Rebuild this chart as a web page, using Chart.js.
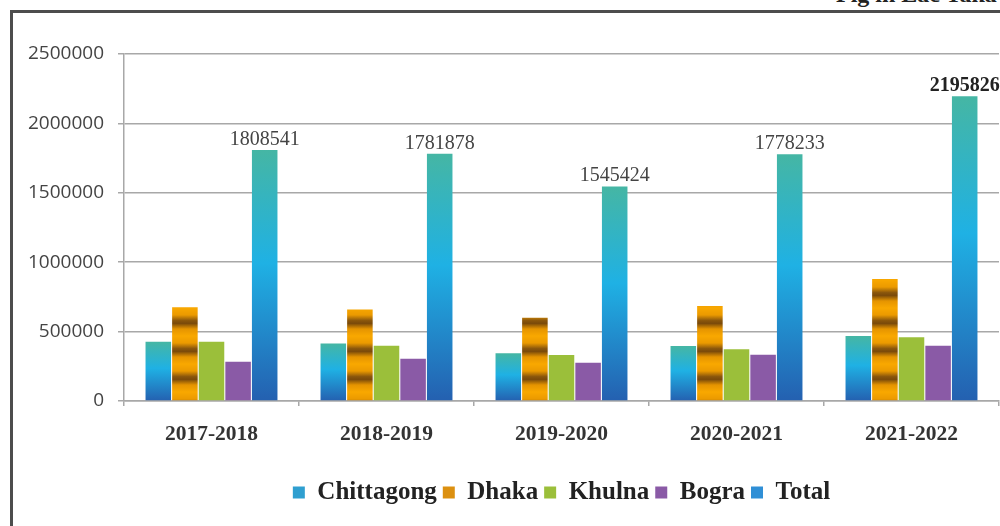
<!DOCTYPE html>
<html>
<head>
<meta charset="utf-8">
<script src="https://cdn.jsdelivr.net/npm/chart.js@4.4.1/dist/chart.umd.min.js"></script>
<style>
  html, body { margin: 0; padding: 0; background: #fff; }
  #wrap { position: relative; width: 1000px; height: 526px; overflow: hidden; }
  #frame { position: absolute; left: 10px; top: 10px; right: -10px; bottom: -10px;
           border-left: 3px solid #4d4d4d; border-top: 3px solid #4d4d4d; }
  #unit { position: absolute; left: 836px; top: -19px; font: bold 24px "Liberation Serif", serif;
          color: #222; white-space: nowrap; }
  canvas { position: absolute; left: 0; top: 0; }
</style>
</head>
<body>
<div id="wrap">
  <div id="frame"></div>
  <div id="unit">Fig in Lac Taka</div>
  <canvas id="regionChart" width="1000" height="526"></canvas>
</div>
<script>
const years = ["2017-2018", "2018-2019", "2019-2020", "2020-2021", "2021-2022"];
const chittagong = [427000, 415000, 344000, 396000, 468000];
const dhaka = [675000, 660000, 600000, 684000, 879000];
const khulna = [427000, 398000, 331000, 372000, 459000];
const bogra = [283000, 305000, 276000, 333000, 398000];
const total = [1808541, 1781878, 1545424, 1778233, 2195826];
const yTicks = [0, 500000, 1000000, 1500000, 2000000, 2500000];

const GRID = "#a8a8a8";
const SERIF = "'Liberation Serif', 'Times New Roman', serif";

// teal -> cyan -> blue fade, stretched over each bar's own height
function blueFade(ctx) {
  const chart = ctx.chart;
  if (!ctx.parsed || !chart.chartArea) return "#2a9fd6";
  const y = chart.scales.y;
  const top = y.getPixelForValue(ctx.parsed.y);
  const base = y.getPixelForValue(0);
  const g = chart.ctx.createLinearGradient(0, top, 0, base);
  g.addColorStop(0, "#45b6a4");
  g.addColorStop(0.45, "#1fb1e4");
  g.addColorStop(1, "#2460b0");
  return g;
}

// orange bars with brown wood-like bands
function woodPattern() {
  const c = document.createElement("canvas");
  c.width = 4; c.height = 28;
  const g = c.getContext("2d");
  const lg = g.createLinearGradient(0, 0, 0, 28);
  lg.addColorStop(0, "#f9a800");
  lg.addColorStop(0.25, "#eb9a00");
  lg.addColorStop(0.45, "#8a560c");
  lg.addColorStop(0.55, "#7a4a0a");
  lg.addColorStop(0.75, "#e59400");
  lg.addColorStop(1, "#f9a800");
  g.fillStyle = lg;
  g.fillRect(0, 0, 4, 28);
  return g.createPattern(c, "repeat");
}

// legend swatches: flat stand-ins for the gradient / striped fills
const swatch = ["#2f9fd0", "#dc9010", "#9bbf3a", "#8a5aa6", "#2f8fd6"];

const totalLabels = {
  id: "totalLabels",
  afterDatasetsDraw(chart) {
    const meta = chart.getDatasetMeta(4);
    const c = chart.ctx;
    c.save();
    c.textAlign = "center";
    c.textBaseline = "alphabetic";
    meta.data.forEach((bar, i) => {
      const last = i === total.length - 1;
      c.font = `${last ? "bold " : ""}20px ${SERIF}`;
      c.fillStyle = last ? "#222" : "#444";
      c.fillText(String(total[i]), bar.x, bar.y - 5);
    });
    c.restore();
  },
};

const common = { borderWidth: 0, barPercentage: 0.96, categoryPercentage: 0.76 };

new Chart(document.getElementById("regionChart"), {
  type: "bar",
  data: {
    labels: years,
    datasets: [
      { label: "Chittagong", data: chittagong, backgroundColor: blueFade, ...common },
      { label: "Dhaka", data: dhaka, backgroundColor: woodPattern(), ...common },
      { label: "Khulna", data: khulna, backgroundColor: "#9bbf3a", ...common },
      { label: "Bogra", data: bogra, backgroundColor: "#8a5aa6", ...common },
      { label: "Total", data: total, backgroundColor: blueFade, ...common },
    ],
  },
  options: {
    responsive: false,
    animation: false,
    layout: { padding: { left: 12, right: 1, top: 54, bottom: 11 } },
    plugins: {
      tooltip: { enabled: false },
      legend: {
        position: "bottom",
        fullSize: false,
        labels: {
          boxWidth: 12,
          boxHeight: 12,
          padding: 6,
          color: "#222",
          font: { family: SERIF, size: 25, weight: "bold" },
          generateLabels(chart) {
            const items = Chart.defaults.plugins.legend.labels.generateLabels(chart);
            items.forEach((it, i) => { it.fillStyle = swatch[i]; it.lineWidth = 0; });
            return items;
          },
        },
      },
    },
    scales: {
      x: {
        grid: { drawOnChartArea: false, tickLength: 5, color: GRID, lineWidth: 1.5 },
        border: { color: GRID, width: 1.5 },
        ticks: { color: "#333", padding: 16, font: { family: SERIF, size: 21.5, weight: "bold" } },
        afterFit(s) { s.height = 73; },
      },
      y: {
        min: 0,
        max: 2500000,
        afterBuildTicks(s) { s.ticks = yTicks.map(v => ({ value: v })); },
        grid: { tickLength: 6, color: GRID, lineWidth: 1.5 },
        border: { color: GRID, width: 1.5 },
        ticks: {
          color: "#444",
          padding: 14,
          font: { family: "'Open Sans', sans-serif", size: 19 },
          callback: v => String(v),
        },
        afterFit(s) { s.width = 112; },
      },
    },
  },
  plugins: [totalLabels],
});
</script>
</body>
</html>
